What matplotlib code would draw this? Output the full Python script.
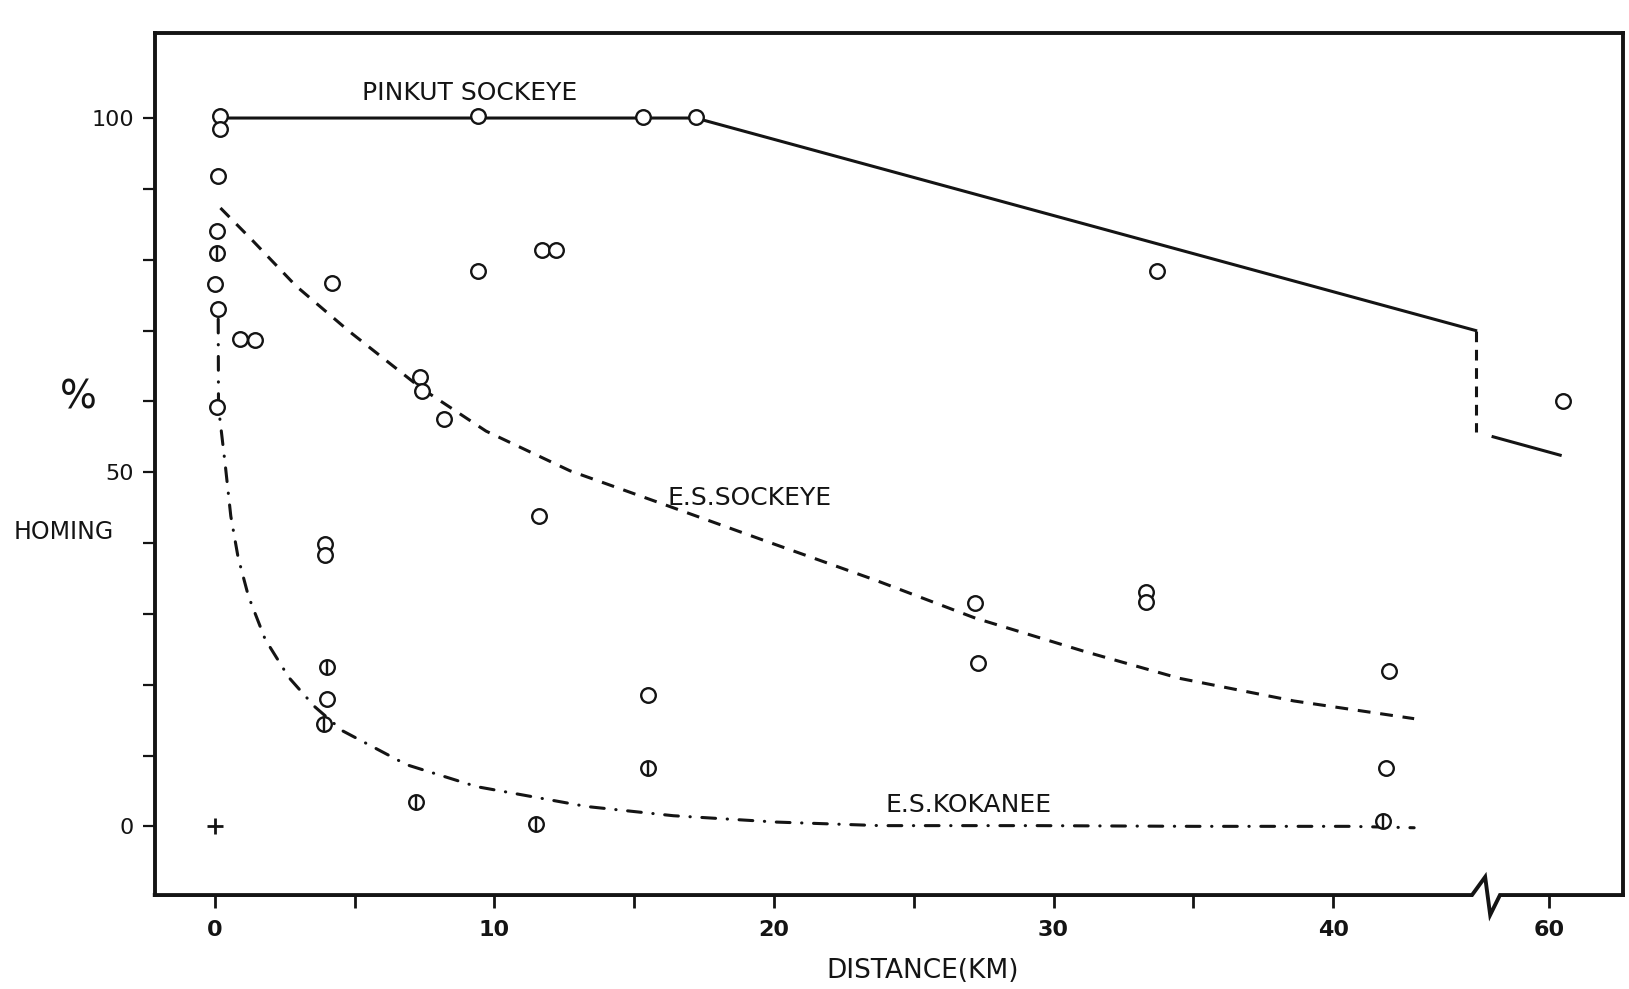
import numpy as np
import matplotlib
matplotlib.use("Agg")
import matplotlib.pyplot as plt
from matplotlib.lines import Line2D
from matplotlib.transforms import blended_transform_factory

# values: distance (km) and homing (%)
pinkut_x = [0.2, 0.2, 9.4, 15.3, 17.2]
pinkut_y = [100.3, 98.4, 100.3, 100.1, 100.2]

# Pinkut sockeye line, the dashed drop at the axis break, and the piece after it
pinkut_line_x = [0.5, 17.2, 45.1]
pinkut_line_y = [100.0, 100.0, 70.0]
pinkut_drop_x = [45.1, 45.1]
pinkut_drop_y = [70.0, 55.7]
pinkut_far_x = [58.0, 60.4]
pinkut_far_y = [55.0, 52.4]

# open circles
open_x = [0.1, 0.08, 0.0, 0.1, 0.06, 0.9, 1.45, 4.2, 9.4, 11.7, 12.2, 7.35, 7.4,
          8.2, 11.6, 3.95, 3.95, 27.2, 33.3, 33.3, 27.3, 33.7, 15.5, 4.0, 42.0,
          41.9, 60.5]
open_y = [91.8, 84.1, 76.6, 73.1, 59.2, 68.8, 68.7, 76.7, 78.4, 81.3, 81.3, 63.4,
          61.5, 57.5, 43.8, 39.8, 38.3, 31.6, 33.1, 31.7, 23.0, 78.4, 18.6, 18.0,
          21.9, 8.2, 60.1]

# circles with a bar (kokanee)
bar_x = [0.06, 4.0, 3.9, 7.2, 11.5, 15.5, 41.8]
bar_y = [81.0, 22.5, 14.4, 3.4, 0.3, 8.3, 0.7]

cross_x = [0.0]
cross_y = [0.0]

# E.S. sockeye curve (dashed)
es_sockeye_x = [0.2, 1.35, 2.9, 4.8, 7.4, 9.7, 12.7, 16.1, 19.9, 23.6, 27.2, 31.1,
                34.5, 38.6, 42.9]
es_sockeye_y = [87.3, 82.7, 76.3, 69.9, 61.8, 55.8, 50.2, 45.4, 40.0, 34.8, 29.4,
                24.7, 20.9, 17.7, 15.2]

# E.S. kokanee curve (dash-dot)
es_kokanee_x = [0.12, 0.13, 0.37, 0.57, 0.83, 1.2, 1.8, 2.65, 3.57, 4.56, 6.86, 9.37,
                13.3, 16.4, 20.1, 23.8, 29.4, 35.0, 40.6, 42.9]
es_kokanee_y = [71.6, 59.2, 51.1, 43.8, 38.0, 32.5, 26.4, 21.0, 16.9, 13.5, 8.7, 5.6,
                2.8, 1.5, 0.6, 0.1, 0.1, 0.0, 0.0, -0.2]

x_ticks = [0, 5, 10, 15, 20, 25, 30, 35, 40, 60]
x_tick_labels = ["0", "", "10", "", "20", "", "30", "", "40", "60"]
y_ticks = [0, 10, 20, 30, 40, 50, 60, 70, 80, 90, 100]
y_tick_labels = ["0", "", "", "", "", "50", "", "", "", "", "100"]

# broken distance axis: squeeze 45.5..57.9 km to almost nothing
BREAK_LO, BREAK_HI, SQUEEZE = 45.5, 57.9, 0.01
SHIFT = (BREAK_HI - BREAK_LO) * (1 - SQUEEZE)
TOP = BREAK_LO + (BREAK_HI - BREAK_LO) * SQUEEZE


def fwd(x):
    x = np.asarray(x, dtype=float)
    return np.where(x <= BREAK_LO, x,
                    np.where(x >= BREAK_HI, x - SHIFT,
                             BREAK_LO + (x - BREAK_LO) * SQUEEZE))


def inv(y):
    y = np.asarray(y, dtype=float)
    return np.where(y <= BREAK_LO, y,
                    np.where(y >= TOP, y + SHIFT,
                             BREAK_LO + (y - BREAK_LO) / SQUEEZE))


INK = "#141414"
plt.rcParams["font.family"] = ["DejaVu Sans"]

fig = plt.figure(figsize=(16.29, 9.89), dpi=100)
ax = fig.add_axes([0.095, 0.095, 0.9013, 0.8716])
ax.set_xscale("function", functions=(fwd, inv))
X0, X1 = -2.15, 50.37
ax.set_xlim(X0, float(inv(X1)))
ax.set_ylim(-9.7, 112)

# lines
LW = 2.2
ax.plot(pinkut_line_x, pinkut_line_y, color=INK, lw=LW, zorder=2)
ax.plot(pinkut_drop_x, pinkut_drop_y, color=INK, lw=LW, dashes=(3.5, 2.5), zorder=2)
ax.plot(pinkut_far_x, pinkut_far_y, color=INK, lw=LW, zorder=2)
ax.plot(es_sockeye_x, es_sockeye_y, color=INK, lw=LW, dashes=(4.2, 3.2), zorder=2)
ax.plot(es_kokanee_x, es_kokanee_y, color=INK, lw=LW, dashes=(4.5, 3.8, 0.1, 3.8),
        dash_capstyle="round", zorder=2)

# points
mk = dict(marker="o", ms=10.5, mew=1.7, mec=INK, mfc="white", ls="none", zorder=3)
ax.plot(pinkut_x, pinkut_y, **mk)
ax.plot(open_x, open_y, **mk)
ax.plot(bar_x, bar_y, **mk)
ax.plot(bar_x, bar_y, marker="|", ms=9.5, mew=1.7, color=INK, ls="none", zorder=4)
ax.plot(cross_x, cross_y, marker="+", ms=12, mew=2.0, color=INK, ls="none", zorder=4)

# curve labels
ax.text(9.1, 103.6, "PINKUT SOCKEYE", fontsize=18, ha="center", va="center", color=INK)
ax.text(16.2, 46.4, "E.S.SOCKEYE", fontsize=18, ha="left", va="center", color=INK)
ax.text(24.0, 3.0, "E.S.KOKANEE", fontsize=18, ha="left", va="center", color=INK)

# axis captions
ax.text(-4.9, 60.5, "%", fontsize=28, ha="center", va="center", color=INK, clip_on=False)
ax.text(-5.4, 41.6, "HOMING", fontsize=17, ha="center", va="center", color=INK,
        clip_on=False)
trans = blended_transform_factory(ax.transData, ax.transAxes)
ax.text(25.3, -0.088, "DISTANCE(KM)", transform=trans, fontsize=19, ha="center",
        va="center", color=INK, clip_on=False)

# frame: thick box, bottom edge drawn by hand with the break zigzag
for side in ["left", "top", "right"]:
    ax.spines[side].set_linewidth(2.8)
    ax.spines[side].set_color(INK)
ax.spines["bottom"].set_visible(False)


def axfrac(d):
    return (d - X0) / (X1 - X0)


zig_x = [0, axfrac(44.97), axfrac(45.44), axfrac(45.62), axfrac(45.97), 1]
zig_y = [0, 0, 0.021, -0.023, 0, 0]
ax.add_line(Line2D(zig_x, zig_y, transform=ax.transAxes, color=INK, lw=2.8,
                   clip_on=False, solid_joinstyle="miter"))

ax.set_xticks(x_ticks)
ax.set_xticklabels(x_tick_labels, fontweight="bold")
ax.set_yticks(y_ticks)
ax.set_yticklabels(y_tick_labels)
ax.xaxis.set_minor_locator(plt.NullLocator())
ax.tick_params(axis="x", direction="out", length=9, width=2.0, pad=9,
               labelsize=16, colors=INK)
ax.tick_params(axis="y", direction="out", length=9, width=1.6, pad=6,
               labelsize=16, colors=INK)
ax.tick_params(top=False, right=False)

fig.savefig("out.png", dpi=100, facecolor="white")
